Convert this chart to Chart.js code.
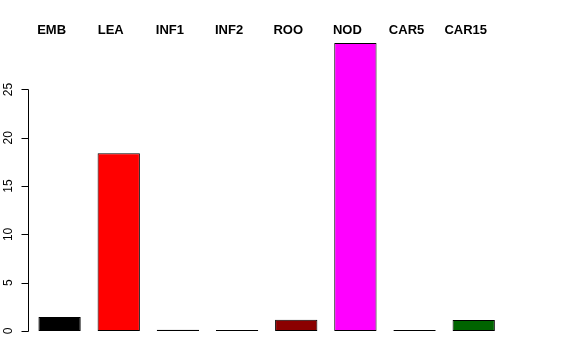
<!DOCTYPE html>
<html>
<head>
<meta charset="utf-8">
<script src="https://cdn.jsdelivr.net/npm/chart.js@4/dist/chart.umd.min.js"></script>
<style>
  html, body { margin: 0; padding: 0; background: #fff; }
  #wrap { width: 576px; height: 360px; }
</style>
</head>
<body>
<div id="wrap"><canvas id="bars"></canvas></div>
<script>
const categories = ['EMB', 'LEA', 'INF1', 'INF2', 'ROO', 'NOD', 'CAR5', 'CAR15'];
const values = [1.45, 18.4, 0.12, 0.1, 1.17, 29.8, 0.1, 1.14];
const barColors = ['#000000', '#FF0000', '#2E4A2E', '#3B3B5C', '#8B0000', '#FF00FF', '#000000', '#006400'];
const yTicks = [0, 5, 10, 15, 20, 25];

// R-style axis: line only across the tick range, rotated labels, names on top
const rAxis = {
    id: 'rAxis',
    afterDraw(chart) {
        const ctx = chart.ctx;
        const y = chart.scales.y;
        const x = chart.scales.x;
        const ax = chart.chartArea.left - 1.5;
        ctx.save();
        ctx.strokeStyle = '#000';
        ctx.lineWidth = 1;
        ctx.beginPath();
        ctx.moveTo(ax, Math.round(y.getPixelForValue(yTicks[0])) + 0.5);
        ctx.lineTo(ax, Math.round(y.getPixelForValue(yTicks[yTicks.length - 1])) + 0.5);
        yTicks.forEach(v => {
            const py = Math.round(y.getPixelForValue(v)) + 0.5;
            ctx.moveTo(ax, py);
            ctx.lineTo(ax - 7, py);
        });
        ctx.stroke();

        ctx.fillStyle = '#000';
        ctx.font = '12px "Liberation Sans", Arial, sans-serif';
        ctx.textAlign = 'center';
        ctx.textBaseline = 'middle';
        yTicks.forEach(v => {
            ctx.save();
            ctx.translate(8.5, y.getPixelForValue(v));
            ctx.rotate(-Math.PI / 2);
            ctx.fillText(String(v), 0, 0);
            ctx.restore();
        });

        ctx.font = 'bold 13px "Liberation Sans", Arial, sans-serif';
        ctx.textBaseline = 'alphabetic';
        categories.forEach((c, i) => {
            ctx.fillText(c, x.getPixelForValue(i) - 8, 34);
        });
        ctx.restore();
    }
};

document.addEventListener("DOMContentLoaded", function () {
    const ctx = document.getElementById('bars').getContext('2d');

    new Chart(ctx, {
        type: 'bar',
        data: {
            labels: categories,
            datasets: [{
                data: values,
                backgroundColor: barColors,
                borderColor: '#000',
                borderWidth: 1,
                borderSkipped: false,
                categoryPercentage: 1,
                barPercentage: 0.715
            }]
        },
        options: {
            responsive: true,
            maintainAspectRatio: false,
            animation: false,
            layout: { padding: { left: 30, right: 72.7, top: 31.5, bottom: 29 } },
            plugins: {
                legend: { display: false },
                tooltip: { enabled: false }
            },
            scales: {
                x: { display: false },
                y: { display: false, min: 0, max: 31 }
            }
        },
        plugins: [rAxis]
    });
});
</script>
</body>
</html>
